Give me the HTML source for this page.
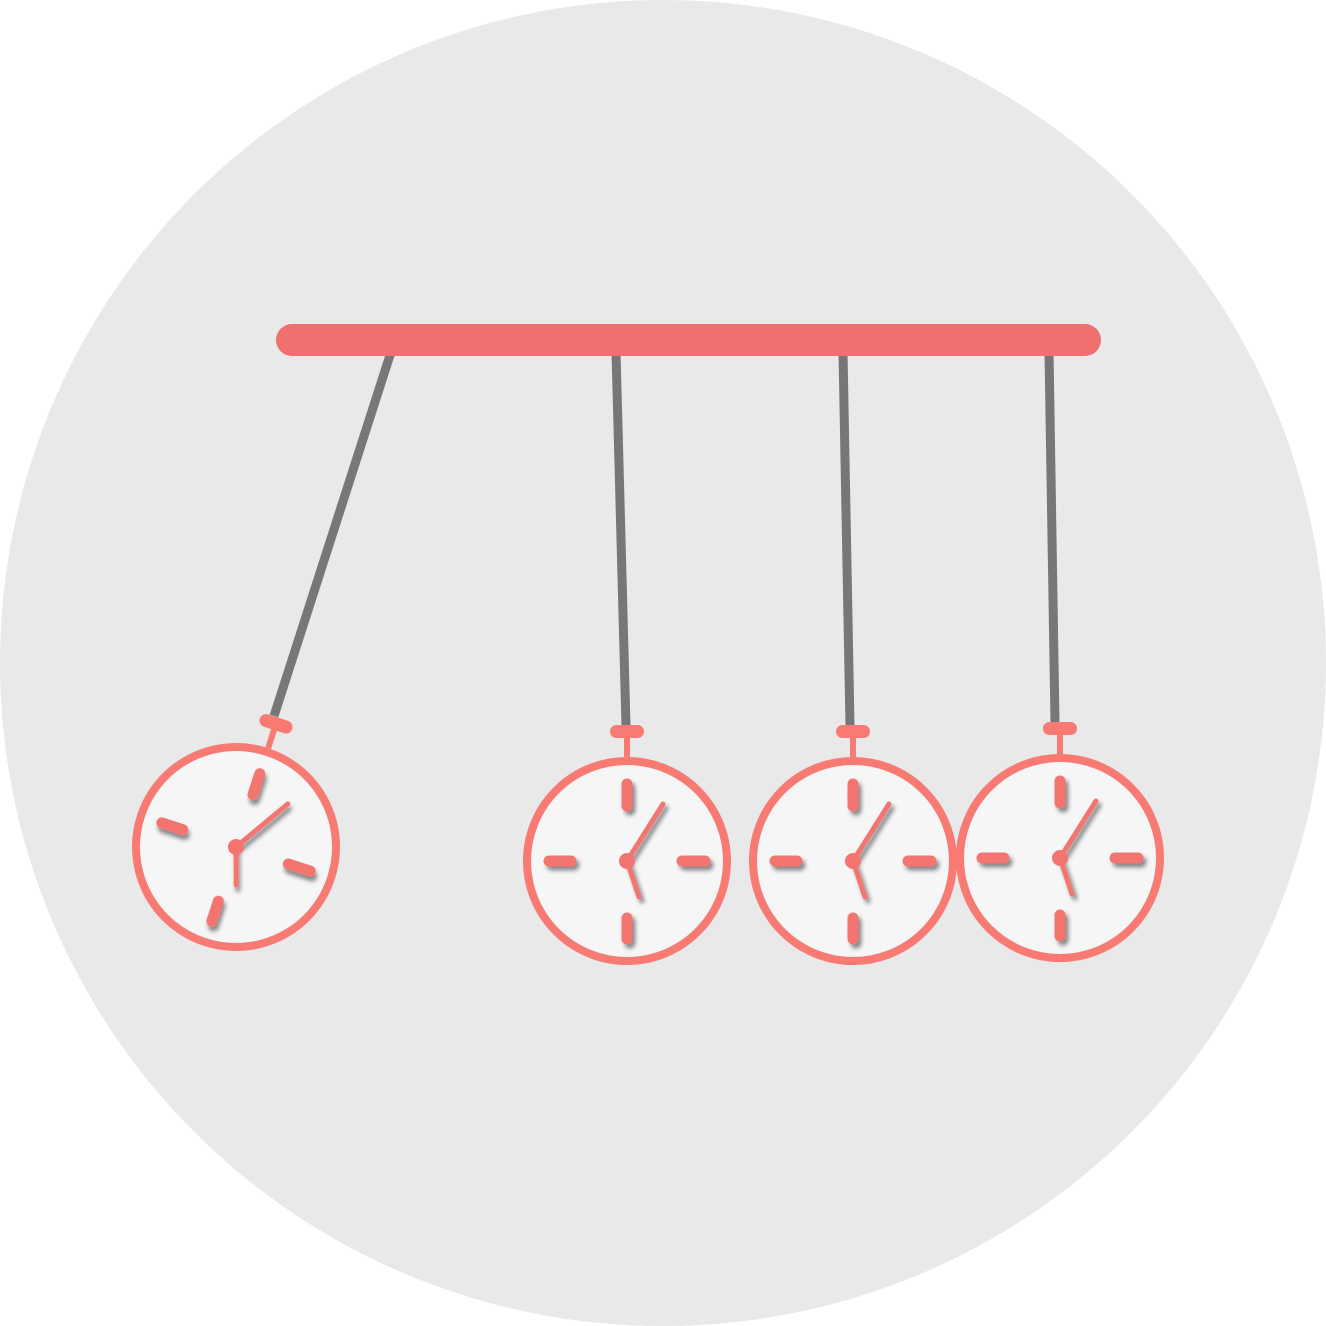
<!DOCTYPE html>
<html><head><meta charset="utf-8"><style>html,body{margin:0;padding:0;background:#fff}svg{display:block}</style></head>
<body>
<svg width="1326" height="1326" viewBox="0 0 1326 1326">
<defs>
<filter id="sh" x="-50%" y="-50%" width="200%" height="200%"><feDropShadow dx="3" dy="4" stdDeviation="2" flood-color="#000" flood-opacity="0.45"/></filter>
<g id="clock">
  <circle cx="0" cy="0" r="100" fill="#f7f6f7" stroke="#f87a72" stroke-width="8"/>
  <g stroke="#f47470" stroke-width="11" stroke-linecap="round" filter="url(#sh)">
    <line x1="0" y1="-77" x2="0" y2="-55"/>
    <line x1="55" y1="0" x2="78" y2="0"/>
    <line x1="0" y1="57" x2="0" y2="78"/>
    <line x1="-78" y1="0" x2="-56" y2="0"/>
  </g>
  <g stroke="#f47470" stroke-linecap="round" filter="url(#sh)">
    <line x1="0" y1="0" x2="36" y2="-57" stroke-width="5"/>
    <line x1="0" y1="0" x2="12" y2="36" stroke-width="5"/>
  </g>
  <circle cx="0" cy="0" r="8" fill="#f47470"/>
  <line x1="0" y1="-104" x2="0" y2="-124" stroke="#f87a72" stroke-width="6"/>
  <rect x="-17" y="-136" width="34" height="13" rx="6.5" fill="#f87a72"/>
</g>
</defs>
<circle cx="663" cy="663" r="663" fill="#e9e9e9"/>
<g stroke="#777" stroke-width="9">
  <line x1="391" y1="352" x2="274" y2="716"/>
  <line x1="616" y1="352" x2="626" y2="726"/>
  <line x1="843" y1="352" x2="850" y2="726"/>
  <line x1="1049" y1="352" x2="1055" y2="722"/>
</g>
<rect x="276" y="324" width="825" height="32" rx="16" fill="#f07070"/>
<use href="#clock" transform="translate(236,847) rotate(18)"/>
<use href="#clock" transform="translate(627,861)"/>
<use href="#clock" transform="translate(853,861)"/>
<use href="#clock" transform="translate(1060,858)"/>
</svg>
</body></html>
